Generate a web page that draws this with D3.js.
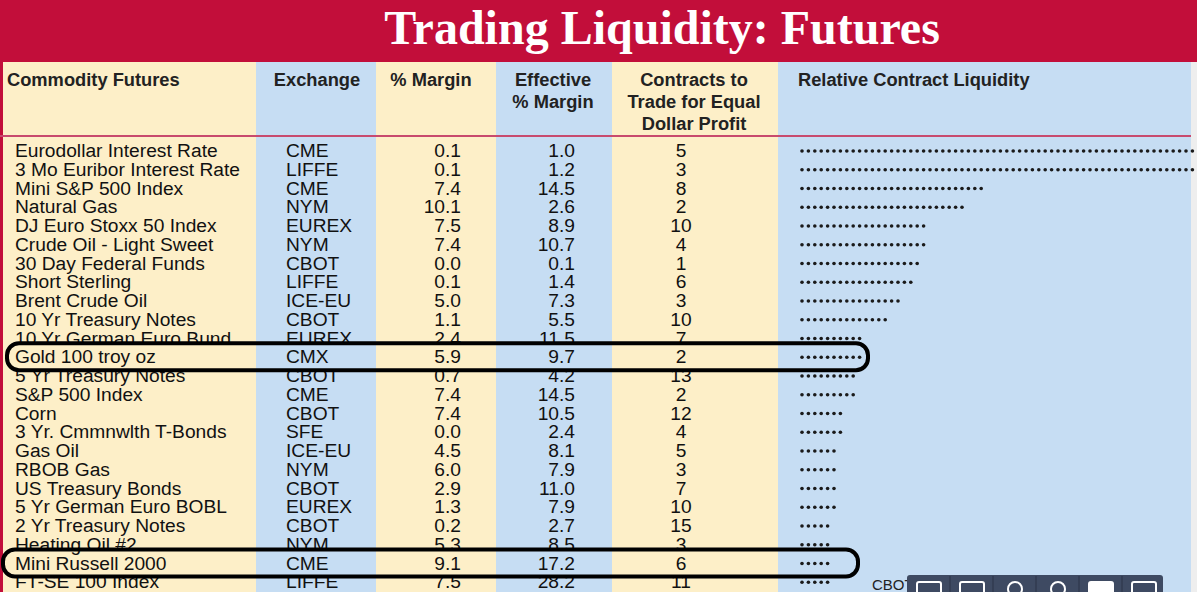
<!DOCTYPE html>
<html><head><meta charset="utf-8">
<script src="https://cdn.jsdelivr.net/npm/d3@7"></script>
<style>body{margin:0;overflow:hidden;background:#fff}</style>
</head><body>
<svg id="canvas" width="1197" height="592"></svg>
<script>
var futures = ["Eurodollar Interest Rate","3 Mo Euribor Interest Rate","Mini S&P 500 Index","Natural Gas","DJ Euro Stoxx 50 Index","Crude Oil - Light Sweet","30 Day Federal Funds","Short Sterling","Brent Crude Oil","10 Yr Treasury Notes","10 Yr German Euro Bund","Gold 100 troy oz","5 Yr Treasury Notes","S&P 500 Index","Corn","3 Yr. Cmmnwlth T-Bonds","Gas Oil","RBOB Gas","US Treasury Bonds","5 Yr German Euro BOBL","2 Yr Treasury Notes","Heating Oil  #2","Mini Russell 2000","FT-SE 100 Index"];
var exchanges = ["CME","LIFFE","CME","NYM","EUREX","NYM","CBOT","LIFFE","ICE-EU","CBOT","EUREX","CMX","CBOT","CME","CBOT","SFE","ICE-EU","NYM","CBOT","EUREX","CBOT","NYM","CME","LIFFE"];
var margin = [0.1,0.1,7.4,10.1,7.5,7.4,0.0,0.1,5.0,1.1,2.4,5.9,0.7,7.4,7.4,0.0,4.5,6.0,2.9,1.3,0.2,5.3,9.1,7.5];
var effMargin = [1.0,1.2,14.5,2.6,8.9,10.7,0.1,1.4,7.3,5.5,11.5,9.7,4.2,14.5,10.5,2.4,8.1,7.9,11.0,7.9,2.7,8.5,17.2,28.2];
var contracts = [5,3,8,2,10,4,1,6,3,10,7,2,13,2,12,4,5,3,7,10,15,3,6,11];
var liquidity = [70,70,29,26,20,20,19,18,16,14,10,10,9,9,7,7,6,6,6,6,5,5,5,5];
var highlighted = ["Gold 100 troy oz","Mini Russell 2000"];

var svg = d3.select("#canvas");
var W = 1197, H = 592;
var rowY = d3.scaleLinear().domain([0, 1]).range([150, 168.75]); // row centre
var dotX = d3.scaleLinear().domain([0, 1]).range([802, 808.4]);

// column bands
var cols = [[0,256,"#fdefc8"],[256,376,"#c6ddf3"],[376,496,"#fdefc8"],[496,612,"#c6ddf3"],[612,778,"#fdefc8"],[778,1191,"#c6ddf3"],[1191,1197,"#eeeeee"]];
svg.selectAll(".col").data(cols).enter().append("rect")
  .attr("x", function(d){return d[0];}).attr("y", 62)
  .attr("width", function(d){return d[1]-d[0];}).attr("height", H-62)
  .attr("fill", function(d){return d[2];});

// title banner
svg.append("rect").attr("x",0).attr("y",0).attr("width",W).attr("height",62).attr("fill","#c20e3a");
svg.append("rect").attr("x",0).attr("y",0).attr("width",3).attr("height",H).attr("fill","#c20e3a");
svg.append("text").attr("x",662).attr("y",44).attr("text-anchor","middle")
  .attr("font-family","Liberation Serif").attr("font-weight","bold").attr("font-size",48)
  .attr("fill","#fff").text("Trading Liquidity: Futures");
svg.append("rect").attr("x",0).attr("y",135).attr("width",1191).attr("height",2).attr("fill","#c84a6e");

// headers
var headers = [[7,"start",["Commodity Futures"]],[317,"middle",["Exchange"]],[431,"middle",["% Margin"]],[553,"middle",["Effective","% Margin"]],[694,"middle",["Contracts to","Trade for Equal","Dollar Profit"]],[798,"start",["Relative Contract Liquidity"]]];
headers.forEach(function(h){
  h[2].forEach(function(line,i){
    svg.append("text").attr("x",h[0]).attr("y",86+i*22).attr("text-anchor",h[1])
      .attr("font-family","Liberation Sans").attr("font-weight","bold").attr("font-size",18.3)
      .attr("fill","#222").text(line);
  });
});

function txt(x, anchor, f){
  var g = svg.append("g");
  g.selectAll("text").data(futures).enter().append("text")
    .attr("x", x).attr("y", function(d,i){return rowY(i)+7;})
    .attr("text-anchor", anchor)
    .attr("font-family", "Liberation Sans").attr("font-size", 19.2).attr("fill", "#111")
    .text(f);
}
txt(15, "start", function(d){return d;});
txt(286, "start", function(d,i){return exchanges[i];});
txt(461, "end", function(d,i){return margin[i].toFixed(1);});
txt(575, "end", function(d,i){return effMargin[i].toFixed(1);});
txt(681, "middle", function(d,i){return contracts[i];});

// liquidity dots
liquidity.forEach(function(n,i){
  svg.append("g").selectAll("circle").data(d3.range(n)).enter().append("circle")
    .attr("cx", function(k){return dotX(k);}).attr("cy", rowY(i)+1)
    .attr("r", 1.8).attr("fill","#1a1a1a");
});

// highlight boxes
highlighted.forEach(function(name){
  var i = futures.indexOf(name);
  var x0 = i === 11 ? 7 : 3, x1 = i === 11 ? 868 : 858;
  svg.append("rect").attr("x",x0).attr("y",rowY(i)-13).attr("width",x1-x0).attr("height",27)
    .attr("rx",12).attr("fill","none").attr("stroke","#000").attr("stroke-width",4);
});

// footer text and viewer toolbar
svg.append("text").attr("x",872).attr("y",590).attr("font-family","Liberation Sans").attr("font-size",15)
  .attr("fill","#222").text("CBOT - Chicago Board of Trade Division");
svg.append("rect").attr("x",907).attr("y",575).attr("width",256).attr("height",24).attr("rx",3).attr("fill","#3e4a62");
d3.range(6).forEach(function(k){
  var cx = 929 + k*43;
  if (k>0) svg.append("line").attr("x1",cx-22).attr("x2",cx-22).attr("y1",576).attr("y2",592).attr("stroke","#2a3346");
  if (k===2 || k===3) svg.append("circle").attr("cx",cx).attr("cy",589).attr("r",7).attr("fill","none").attr("stroke","#fff").attr("stroke-width",2);
  else svg.append("rect").attr("x",cx-12).attr("y",582).attr("width",24).attr("height",12).attr("rx",2).attr("fill",k===4?"#fff":"none").attr("stroke","#fff").attr("stroke-width",2);
});
</script>
</body></html>
